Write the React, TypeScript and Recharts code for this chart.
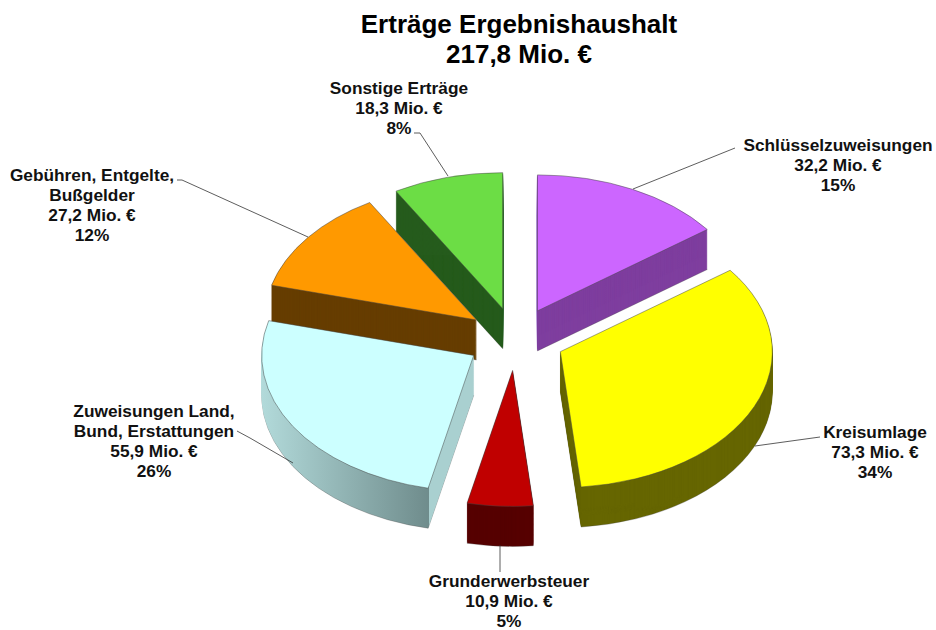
import React from 'react';
import { PieChart, Pie, Sector } from 'recharts';

// counter-clockwise from 12 o'clock, so later slices paint over earlier ones
const names = [
  ['Sonstige Erträge'],
  ['Gebühren, Entgelte,', 'Bußgelder'],
  ['Zuweisungen Land,', 'Bund, Erstattungen'],
  ['Grunderwerbsteuer'],
  ['Kreisumlage'],
  ['Schlüsselzuweisungen'],
];
const values = [18.3, 27.2, 55.9, 10.9, 73.3, 32.2];
const amounts = ['18,3 Mio. €', '27,2 Mio. €', '55,9 Mio. €', '10,9 Mio. €', '73,3 Mio. €', '32,2 Mio. €'];
const percents = ['8%', '12%', '26%', '5%', '34%', '15%'];

const topColors = ['#6CDD45', '#FF9900', '#CCFFFF', '#C00000', '#FFFF00', '#CC66FF'];
const wallColors = ['#265C1C', '#663D00', 'url(#cyanWall)', '#560000', '#666600', '#7F3F9F'];

const sliceData = names.map((lines, i) => ({
  name: lines.join(' '),
  value: values[i],
  fill: topColors[i],
}));

// label block: centre x, first baseline; leader line points
const labelLayout = [
  { x: 399, y: 94, leader: '414,133 420,133 448,176' },
  { x: 92, y: 181, leader: '177,180 182,180 308,237' },
  { x: 154, y: 417, leader: '237,431 250,438 293,463' },
  { x: 509, y: 587, leader: '500,545 500,572' },
  { x: 875, y: 438, leader: '755,446 820,437' },
  { x: 838, y: 151, leader: '735,148 633,189' },
];

const WIDTH = 936;
const HEIGHT = 630;
const CX = 515.5;
const CY = 339;
const RADIUS = 212;
const TILT = 136 / 212; // vertical squash of the pie
const EXPLODE = 49;
const DEPTH = 40;
const FONT = '"Liberation Sans", Arial, sans-serif';

function Slice3D(props: any) {
  const { startAngle, endAngle, innerRadius, outerRadius, cx, cy, index } = props;
  const mid = ((startAngle + endAngle) / 2) * (Math.PI / 180);
  const dx = EXPLODE * Math.cos(mid);
  const dy = -EXPLODE * Math.sin(mid) * TILT;
  const sector = { cx, cy, innerRadius, outerRadius, startAngle, endAngle };
  const flatten = (offset: number) =>
    `translate(${dx},${cy + dy + offset}) scale(1,${TILT}) translate(0,${-cy})`;

  const layers = [];
  for (let d = DEPTH; d >= 1; d--) {
    layers.push(
      <g key={d} transform={flatten(d)}>
        <Sector
          {...sector}
          fill={wallColors[index]}
          stroke={d === DEPTH ? '#444' : wallColors[index]}
          strokeWidth={d === DEPTH ? 0.4 : 0.3}
        />
      </g>
    );
  }

  return (
    <g>
      {layers}
      <g transform={flatten(0)}>
        <Sector {...sector} fill={topColors[index]} stroke="#444" strokeWidth={0.6} />
      </g>
    </g>
  );
}

function SliceLabel(props: any) {
  const { index } = props;
  const pos = labelLayout[index];
  const lines = [...names[index], amounts[index], percents[index]];
  return (
    <g>
      <polyline points={pos.leader} fill="none" stroke="#333" strokeWidth={0.8} />
      <text x={pos.x} y={pos.y} textAnchor="middle" fontFamily={FONT} fontSize={17.3} fontWeight="bold" fill="#111">
        {lines.map((line, i) => (
          <tspan key={i} x={pos.x} dy={i === 0 ? 0 : 20}>
            {line}
          </tspan>
        ))}
      </text>
    </g>
  );
}

export default function App() {
  return (
    <div style={{ position: 'absolute', left: 0, top: 0, width: WIDTH, height: HEIGHT, background: '#fff' }}>
      <PieChart width={WIDTH} height={HEIGHT} margin={{ top: 0, right: 0, bottom: 0, left: 0 }}>
        <defs>
          <linearGradient id="cyanWall" x1="0" y1="0" x2="1" y2="0">
            <stop offset="0" stopColor="#B2DADA" />
            <stop offset="0.79" stopColor="#6F8C8C" />
            <stop offset="0.79" stopColor="#A9D0D0" />
            <stop offset="1" stopColor="#A9D0D0" />
          </linearGradient>
        </defs>
        <text x={519} y={33} textAnchor="middle" fontFamily={FONT} fontSize={26} fontWeight="bold" fill="#000">
          Erträge Ergebnishaushalt
        </text>
        <text x={519} y={63} textAnchor="middle" fontFamily={FONT} fontSize={26} fontWeight="bold" fill="#000">
          217,8 Mio. €
        </text>
        <Pie
          data={sliceData}
          dataKey="value"
          nameKey="name"
          cx={CX}
          cy={CY}
          innerRadius={0}
          outerRadius={RADIUS}
          startAngle={90}
          endAngle={450}
          stroke="none"
          shape={Slice3D}
          label={SliceLabel}
          labelLine={false}
          isAnimationActive={false}
        />
      </PieChart>
    </div>
  );
}
